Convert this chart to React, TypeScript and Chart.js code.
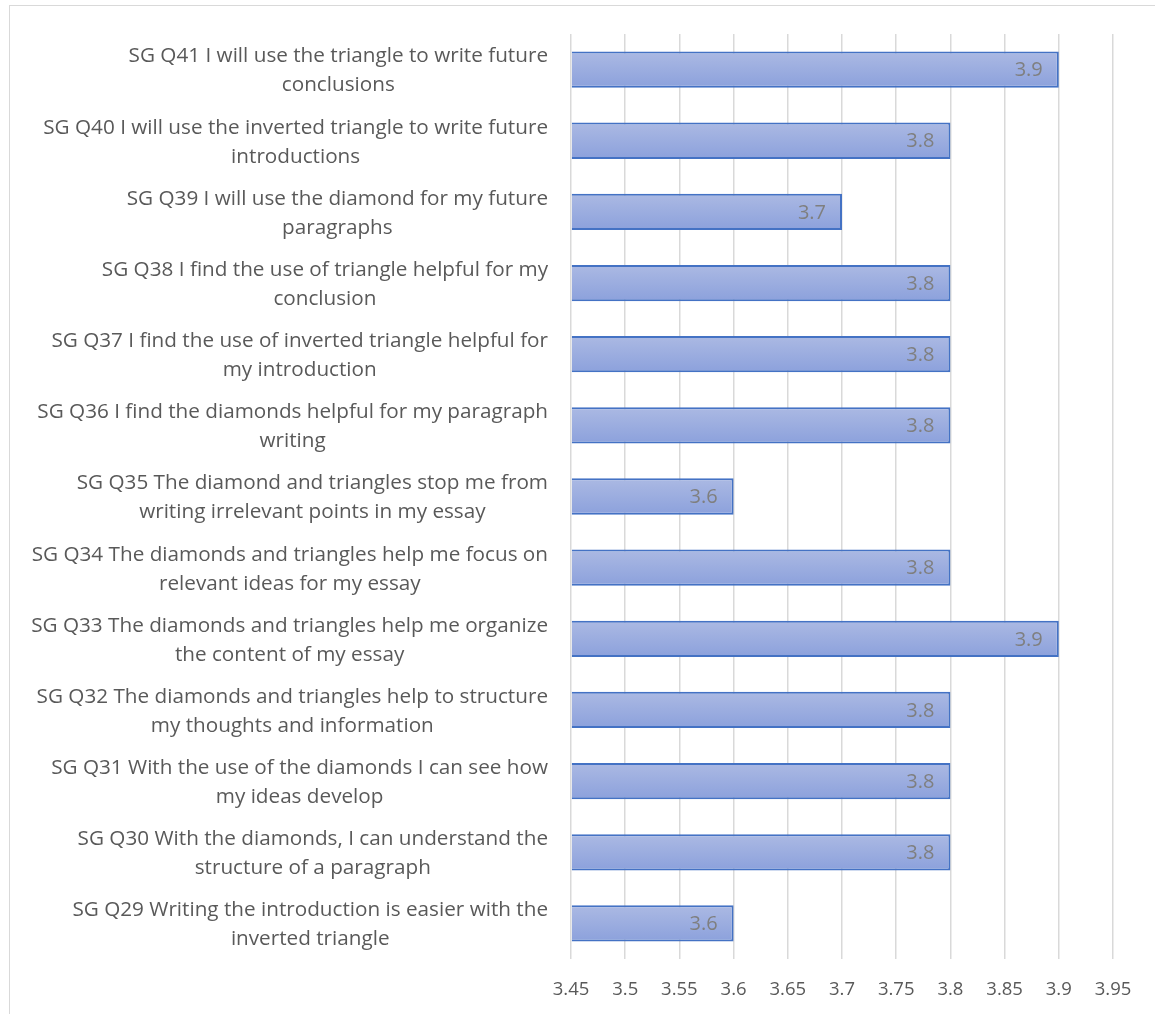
import React, { useEffect, useRef } from "react";
import { Chart, registerables } from "chart.js";

Chart.register(...registerables);

const questionLabels: string[][] = [
  ["SG Q41 I will use the triangle to write future", "conclusions"],
  ["SG Q40 I will use the inverted triangle to write future", "introductions"],
  ["SG Q39 I will use the diamond for my future", "paragraphs"],
  ["SG Q38 I find the use of triangle helpful for my", "conclusion"],
  ["SG Q37 I find the use of inverted triangle helpful for", "my introduction"],
  ["SG Q36 I find the diamonds helpful for my paragraph", "writing"],
  ["SG Q35 The diamond and triangles stop me from", "writing irrelevant points in my essay"],
  ["SG Q34 The diamonds and triangles help me focus on", "relevant ideas for my essay"],
  ["SG Q33 The diamonds and triangles help me organize", "the content of my essay"],
  ["SG Q32 The diamonds and triangles help to structure", "my thoughts and information"],
  ["SG Q31 With the use of the diamonds I can see how", "my ideas develop"],
  ["SG Q30 With the diamonds, I can understand the", "structure of a paragraph"],
  ["SG Q29 Writing the introduction is easier with the", "inverted triangle"],
];

const meanScores: number[] = [3.9, 3.8, 3.7, 3.8, 3.8, 3.8, 3.6, 3.8, 3.9, 3.8, 3.8, 3.8, 3.6];

const axisMin = 3.45;
const axisMax = 3.95;
const axisStep = 0.05;

const FONT = '"Open Sans", "Liberation Sans", sans-serif';
const LABEL_SIZE = 20.7;
const VALUE_SIZE = 20;
const TICK_SIZE = 18.5;
const LINE_H = 29;
const TEXT_COLOR = "#595959";

const yLabelPlugin = {
  id: "yLabelPlugin",
  afterDraw(chart: any) {
    const ctx = chart.ctx;
    const ys = chart.scales.y;
    const right = chart.chartArea.left - 23;
    ctx.save();
    ctx.font = `${LABEL_SIZE}px ${FONT}`;
    ctx.fillStyle = TEXT_COLOR;
    ctx.textAlign = "center";
    ctx.textBaseline = "middle";
    questionLabels.forEach((lines, i) => {
      const yc = ys.getPixelForValue(i) + 1.5;
      const w = Math.max(...lines.map((l) => ctx.measureText(l).width));
      const cx = right - w / 2;
      lines.forEach((l, j) => {
        ctx.fillText(l, cx, yc + (j - (lines.length - 1) / 2) * LINE_H);
      });
    });
    ctx.restore();
  },
};

const valueLabelPlugin = {
  id: "valueLabelPlugin",
  afterDatasetsDraw(chart: any) {
    const ctx = chart.ctx;
    const meta = chart.getDatasetMeta(0);
    ctx.save();
    ctx.font = `${VALUE_SIZE}px ${FONT}`;
    ctx.fillStyle = "#7f7f7f";
    ctx.textAlign = "right";
    ctx.textBaseline = "middle";
    meta.data.forEach((bar: any, i: number) => {
      ctx.fillText(meanScores[i].toFixed(1), bar.x - 16, bar.y + 1);
    });
    ctx.restore();
  },
};

export default function App() {
  const ref = useRef<HTMLCanvasElement | null>(null);

  useEffect(() => {
    document.body.style.overflow = "hidden";
    const canvas = ref.current;
    if (!canvas) return;
    const chart = new Chart(canvas, {
      type: "bar",
      data: {
        labels: questionLabels.map((l) => l.join(" ")),
        datasets: [
          {
            data: meanScores,
            base: axisMin,
            backgroundColor: (c: any) => {
              const ch = c.chart;
              if (!ch.chartArea || !ch.scales.y) return "#9eaee0";
              const y = ch.scales.y.getPixelForValue(c.dataIndex);
              const g = ch.ctx.createLinearGradient(0, y - 18, 0, y + 18);
              g.addColorStop(0, "#abb9e3");
              g.addColorStop(1, "#8ca1dc");
              return g;
            },
            borderColor: "#4472c4",
            borderWidth: 2,
            borderSkipped: "start",
            barPercentage: 0.51,
            categoryPercentage: 1,
          } as any,
        ],
      },
      options: {
        indexAxis: "y",
        responsive: false,
        animation: false,
        layout: { padding: { left: 10, top: 34, right: 42, bottom: 0 } },
        plugins: {
          legend: { display: false },
          tooltip: { enabled: false },
        },
        scales: {
          y: {
            ticks: { display: false },
            grid: { display: false },
            border: { display: false },
            afterFit: (s: any) => {
              s.width = 561;
            },
          },
          x: {
            min: axisMin,
            max: axisMax,
            ticks: {
              stepSize: axisStep,
              color: TEXT_COLOR,
              font: { family: FONT, size: TICK_SIZE },
              padding: 20,
              callback: (v: any) => String(parseFloat(Number(v).toFixed(2))),
            },
            grid: { color: "#d9d9d9", lineWidth: 1.5, drawTicks: false },
            border: { display: false },
            afterFit: (s: any) => {
              s.height = 55;
            },
          },
        },
      },
      plugins: [yLabelPlugin, valueLabelPlugin],
    });
    return () => chart.destroy();
  }, []);

  return (
    <div
      style={{
        position: "absolute",
        left: 0,
        top: 0,
        width: 1155,
        height: 1014,
        overflow: "hidden",
        background: "#ffffff",
      }}
    >
      <div
        style={{
          position: "absolute",
          left: 9,
          top: 5,
          width: 1300,
          height: 1200,
          border: "1.5px solid #d9d9d9",
          boxSizing: "border-box",
        }}
      />
      <canvas
        ref={ref}
        width={1155}
        height={1014}
        style={{ position: "absolute", left: 0, top: 0 }}
      />
    </div>
  );
}
